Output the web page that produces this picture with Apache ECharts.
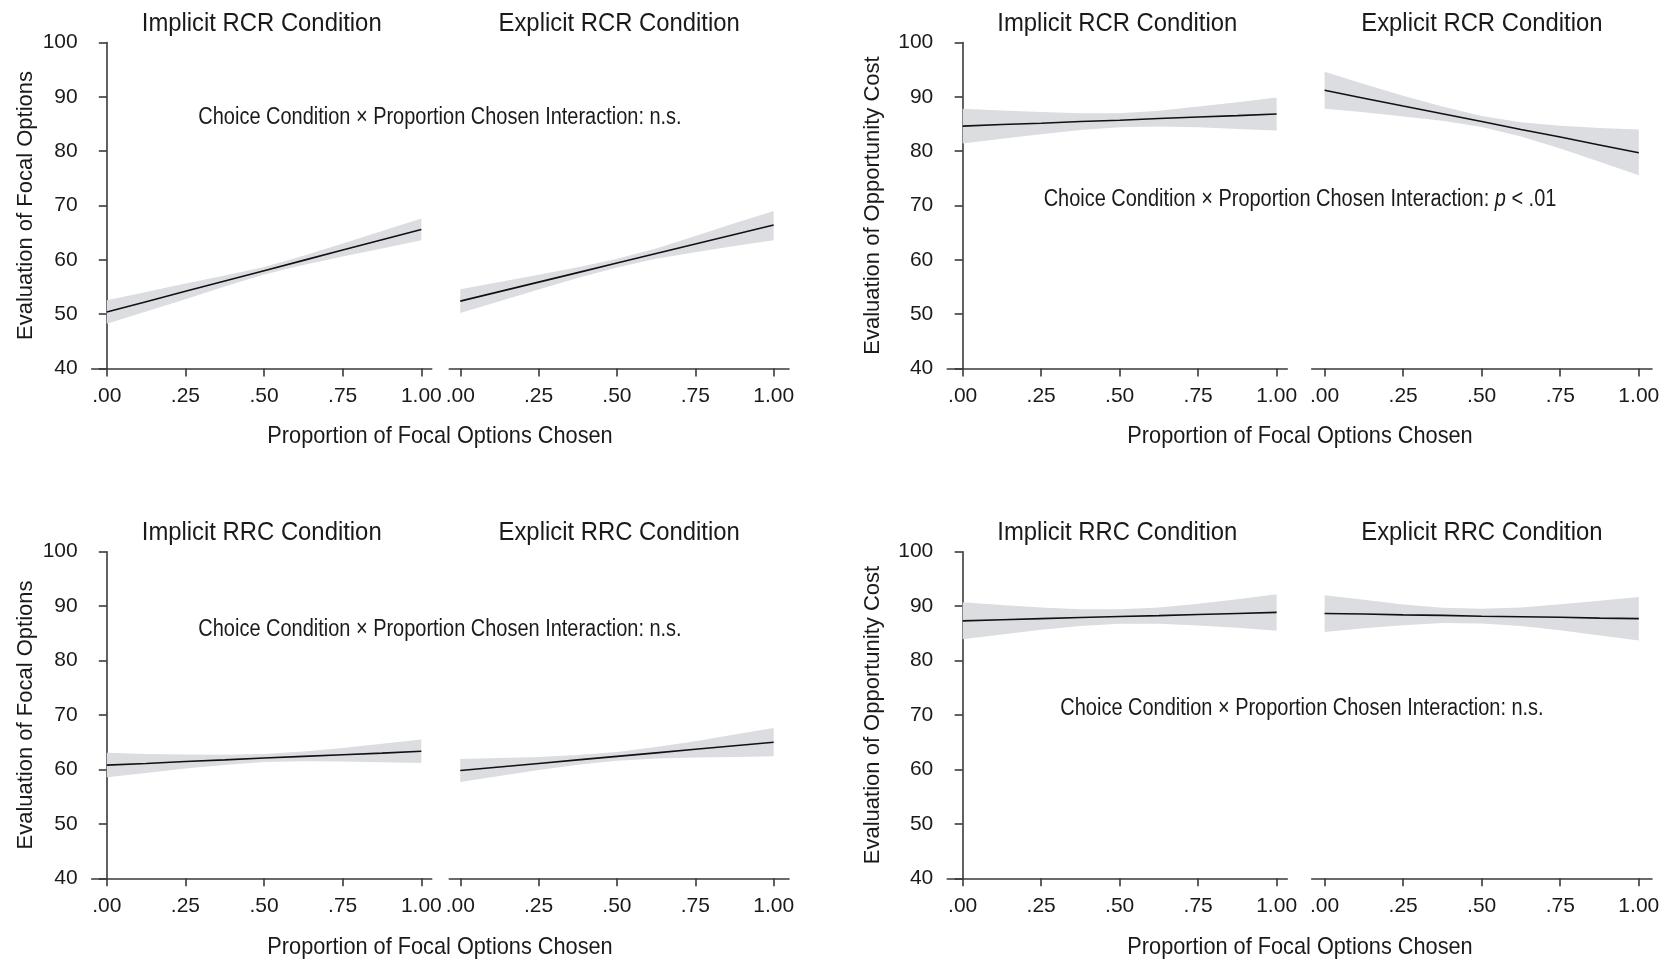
<!DOCTYPE html>
<html>
<head>
<meta charset="utf-8">
<script src="https://cdn.jsdelivr.net/npm/echarts@6/dist/echarts.min.js"></script>
<style>
html,body{margin:0;padding:0;background:#fff;}
#c{width:1668px;height:963px;}
</style>
</head>
<body>
<div id="c"></div>
<script>
// ---- data ----
const xs = [0, 0.125, 0.25, 0.375, 0.5, 0.625, 0.75, 0.875, 1];
const xTicks = [0, 0.25, 0.5, 0.75, 1];
const xTickLabels = ['.00', '.25', '.50', '.75', '1.00'];
const yTicks = [40, 50, 60, 70, 80, 90, 100];
const panelTitles = [
  'Implicit RCR Condition', 'Explicit RCR Condition',
  'Implicit RCR Condition', 'Explicit RCR Condition',
  'Implicit RRC Condition', 'Explicit RRC Condition',
  'Implicit RRC Condition', 'Explicit RRC Condition'
];
const yAxisNames = ['Evaluation of Focal Options', 'Evaluation of Opportunity Cost'];
const xAxisName = 'Proportion of Focal Options Chosen';
const annotationBase = 'Choice Condition \u00d7 Proportion Chosen Interaction: ';
const annotationResults = ['n.s.', 'p < .01', 'n.s.', 'n.s.'];

// fitted lines and 95% CI bands (lower / upper) at xs
const focalImplicitRCR = [50.4, 52.3, 54.2, 56.1, 58.0, 59.9, 61.8, 63.7, 65.6];
const focalImplicitRCRLow = [48.25, 50.5, 52.75, 55.1, 57.3, 59.05, 60.6, 62.1, 63.6];
const focalImplicitRCRHigh = [52.55, 54.1, 55.65, 57.1, 58.7, 60.75, 63.0, 65.3, 67.6];

const focalExplicitRCR = [52.4, 54.15, 55.9, 57.65, 59.4, 61.15, 62.9, 64.65, 66.4];
const focalExplicitRCRLow = [50.2, 52.4, 54.55, 56.65, 58.6, 60.2, 61.4, 62.55, 63.6];
const focalExplicitRCRHigh = [54.6, 55.9, 57.25, 58.65, 60.2, 62.1, 64.4, 66.75, 69.0];

const costImplicitRCR = [84.6, 84.9, 85.15, 85.45, 85.7, 86.0, 86.3, 86.55, 86.85];
const costImplicitRCRLow = [81.4, 82.3, 83.1, 83.9, 84.4, 84.55, 84.4, 84.1, 83.8];
const costImplicitRCRHigh = [87.8, 87.5, 87.2, 87.0, 87.0, 87.45, 88.2, 89.0, 89.9];

const costExplicitRCR = [91.2, 89.75, 88.3, 86.9, 85.45, 84.0, 82.6, 81.15, 79.7];
const costExplicitRCRLow = [87.8, 87.15, 86.4, 85.6, 84.45, 82.7, 80.5, 78.05, 75.55];
const costExplicitRCRHigh = [94.6, 92.35, 90.2, 88.2, 86.45, 85.3, 84.7, 84.25, 84.0];

const focalImplicitRRC = [60.8, 61.1, 61.45, 61.75, 62.1, 62.4, 62.7, 63.0, 63.35];
const focalImplicitRRCLow = [58.55, 59.35, 60.15, 60.8, 61.35, 61.5, 61.45, 61.3, 61.2];
const focalImplicitRRCHigh = [63.05, 62.85, 62.75, 62.7, 62.85, 63.3, 63.95, 64.7, 65.5];

const focalExplicitRRC = [59.8, 60.45, 61.1, 61.75, 62.4, 63.05, 63.7, 64.35, 65.0];
const focalExplicitRRCLow = [57.7, 58.8, 59.9, 60.85, 61.6, 62.0, 62.2, 62.3, 62.4];
const focalExplicitRRCHigh = [61.9, 62.1, 62.3, 62.65, 63.2, 64.1, 65.2, 66.4, 67.6];

const costImplicitRRC = [87.3, 87.5, 87.7, 87.9, 88.1, 88.25, 88.45, 88.65, 88.85];
const costImplicitRRCLow = [83.9, 84.8, 85.65, 86.35, 86.75, 86.75, 86.45, 86.05, 85.5];
const costImplicitRRCHigh = [90.7, 90.2, 89.75, 89.45, 89.45, 89.75, 90.45, 91.25, 92.2];

const costExplicitRRC = [88.65, 88.55, 88.4, 88.3, 88.15, 88.05, 87.95, 87.8, 87.7];
const costExplicitRRCLow = [85.25, 85.95, 86.5, 86.9, 86.8, 86.35, 85.55, 84.6, 83.7];
const costExplicitRRCHigh = [92.0, 91.15, 90.3, 89.7, 89.5, 89.75, 90.35, 91.0, 91.7];

const panels = [
  [focalImplicitRCR, focalImplicitRCRLow, focalImplicitRCRHigh],
  [focalExplicitRCR, focalExplicitRCRLow, focalExplicitRCRHigh],
  [costImplicitRCR, costImplicitRCRLow, costImplicitRCRHigh],
  [costExplicitRCR, costExplicitRCRLow, costExplicitRCRHigh],
  [focalImplicitRRC, focalImplicitRRCLow, focalImplicitRRCHigh],
  [focalExplicitRRC, focalExplicitRRCLow, focalExplicitRRCHigh],
  [costImplicitRRC, costImplicitRRCLow, costImplicitRRCHigh],
  [costExplicitRRC, costExplicitRRCLow, costExplicitRRCHigh]
];

// ---- layout / style ----
const FONT = "'Liberation Sans', Arial, Helvetica, sans-serif";
const TXT = '#1a1a1a';
const AX = '#3a3a3a';
const BAND = '#dcdde0';

// column geometry: [left, width, xmin, xmax]
const cols = [
  [91.7, 340, -0.048, 1.033],
  [449.3, 339.7, -0.035, 1.049],
  [947.3, 340, -0.049, 1.034],
  [1311.7, 340.3, -0.041, 1.042]
];
const rows = [[42.5, 326], [551.7, 326.6]];

const grids = [], xAxes = [], yAxes = [], series = [], graphic = [];
for (let p = 0; p < 8; p++) {
  const r = Math.floor(p / 4), c = p % 4;
  const [left, width, xmin, xmax] = cols[c];
  const [top, height] = rows[r];
  grids.push({left: left, top: top, width: width, height: height, containLabel: false});
  xAxes.push({
    type: 'value', gridIndex: p, min: xmin, max: xmax,
    axisLine: {show: true, lineStyle: {color: AX, width: 1.6}},
    axisTick: {show: true, length: 8, lineStyle: {color: AX, width: 1.6}, customValues: xTicks},
    axisLabel: {show: true, customValues: xTicks, margin: 17, fontFamily: FONT, fontSize: 21, color: TXT,
      formatter: function (v) { const i = xTicks.indexOf(v); return i >= 0 ? xTickLabels[i] : ''; }},
    splitLine: {show: false}
  });
  const hasY = (c === 0 || c === 2);
  yAxes.push({
    type: 'value', gridIndex: p, min: yTicks[0], max: yTicks[yTicks.length - 1], interval: 10,
    show: hasY,
    name: hasY ? yAxisNames[c === 0 ? 0 : 1] : '',
    nameLocation: 'middle', nameRotate: 90, nameGap: c === 0 ? 55 : 63,
    nameTextStyle: {fontFamily: FONT, fontSize: 22, color: TXT},
    axisLine: {show: true, lineStyle: {color: AX, width: 1.6}},
    axisTick: {show: true, length: 8, lineStyle: {color: AX, width: 1.6}},
    axisLabel: {margin: 14, fontFamily: FONT, fontSize: 21, color: TXT},
    splitLine: {show: false}
  });
  graphic.push({
    type: 'text', x: left + width / 2, y: top - 19, scaleX: 0.9,
    style: {text: panelTitles[p], fontFamily: FONT, fontSize: 26.5, fill: TXT, align: 'center', verticalAlign: 'middle'}
  });
  const [fit, low, high] = panels[p];
  series.push({
    type: 'custom', xAxisIndex: p, yAxisIndex: p, silent: true, z: 2,
    encode: {x: 0, y: [1, 2]},
    data: xs.map((x, i) => [x, low[i], high[i]]),
    renderItem: function (params, api) {
      if (params.dataIndexInside !== 0) return null;
      const n = params.dataInsideLength;
      const up = [], lo = [];
      for (let i = 0; i < n; i++) {
        up.push(api.coord([api.value(0, i), api.value(2, i)]));
        lo.push(api.coord([api.value(0, i), api.value(1, i)]));
      }
      return {type: 'polygon', shape: {points: up.concat(lo.reverse())}, style: {fill: BAND, stroke: null}};
    }
  });
  series.push({
    type: 'line', xAxisIndex: p, yAxisIndex: p, symbol: 'none', silent: true, z: 5,
    lineStyle: {color: '#111', width: 1.6}, data: xs.map((x, i) => [x, fit[i]])
  });
}

const annoPos = [[440, 118], [1300, 200], [440, 630], [1302, 709]];
annoPos.forEach(function (pos, k) {
  const res = annotationResults[k];
  let text;
  if (res.charAt(0) === 'p') {
    text = '{a|' + annotationBase + '}{i|p}{a|' + res.slice(1) + '}';
  } else {
    text = '{a|' + annotationBase + res + '}';
  }
  graphic.push({
    type: 'text', x: pos[0], y: pos[1], scaleX: 0.868,
    style: {
      text: text, align: 'center', verticalAlign: 'middle', fill: TXT,
      rich: {
        a: {fontFamily: FONT, fontSize: 23, fill: TXT},
        i: {fontFamily: FONT, fontSize: 23, fontStyle: 'italic', fill: TXT}
      }
    }
  });
});
[[440, 436], [1300, 436], [440, 947], [1300, 947]].forEach(function (pos) {
  graphic.push({
    type: 'text', x: pos[0], y: pos[1], scaleX: 0.905,
    style: {text: xAxisName, fontFamily: FONT, fontSize: 24, fill: TXT, align: 'center', verticalAlign: 'middle'}
  });
});

const chart = echarts.init(document.getElementById('c'), null, {renderer: 'canvas'});
chart.setOption({
  animation: false,
  backgroundColor: '#fff',
  grid: grids,
  xAxis: xAxes,
  yAxis: yAxes,
  series: series,
  graphic: graphic
});
</script>
</body>
</html>
